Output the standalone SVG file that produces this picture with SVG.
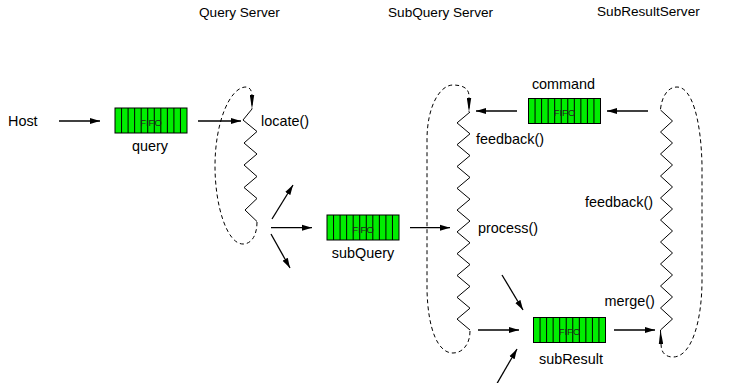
<svg xmlns="http://www.w3.org/2000/svg" xmlns:xlink="http://www.w3.org/1999/xlink" width="735" height="383" viewBox="0 0 735 383">
  <style>
    text { font-family: "Liberation Sans", Arial, Helvetica, sans-serif; fill: #000; }
    .head { font-size: 13.6px; }
    .lbl { font-size: 14.4px; }
    .mid { text-anchor: middle; }
    .fifo-txt { font-size: 9.5px; text-anchor: middle; fill: #222; }
    .arrow { fill: none; stroke: #000; stroke-width: 1.3; marker-end: url(#arrowhead); }
    .zig { fill: none; stroke: #000; stroke-width: 1; stroke-linejoin: miter; }
    .loop { fill: none; stroke: #000; stroke-width: 1; stroke-dasharray: 4 3; marker-end: url(#wedge); }
  </style>
  <defs>
    <marker id="arrowhead" markerUnits="userSpaceOnUse" markerWidth="10" markerHeight="8" refX="10" refY="4" orient="auto">
      <path d="M0,1 L10,4 L0,7 z" fill="#000"/>
    </marker>
    <marker id="wedge" markerUnits="userSpaceOnUse" markerWidth="14" markerHeight="5" refX="14" refY="2.5" orient="auto">
      <path d="M0,0.3 L14,2.5 L0,4.7 z" fill="#000"/>
    </marker>
    <!-- FIFO queue symbol: 11 slots -->
    <g id="fifo-shape">
      <rect x="0" y="0" width="72" height="25" fill="#00ee00" stroke="#000" stroke-width="1"/>
      <path d="M6.55,0V25M13.09,0V25M19.64,0V25M26.18,0V25M32.73,0V25M39.27,0V25M45.82,0V25M52.36,0V25M58.91,0V25M65.45,0V25" stroke="#000" stroke-width="1" fill="none"/>
    </g>
  </defs>

  <!-- server headings -->
  <g id="headings">
    <text class="head" x="199" y="17">Query Server</text>
    <text class="head" x="388" y="17">SubQuery Server</text>
    <text class="head" x="597" y="15.5">SubResultServer</text>
  </g>

  <g id="host">
    <text class="lbl" x="8" y="126">Host</text>
  </g>

  <g id="query-fifo">
    <use href="#fifo-shape" x="115" y="108"/>
    <text class="fifo-txt" x="151" y="125.5">FIFO</text>
    <text class="lbl mid" x="150" y="151">query</text>
  </g>

  <g id="query-server">
    <path class="zig" d="M252,109 L243,120 L257,131.5 L244,143 L257,154 L244,165 L257,176.5 L244,187.5 L257,198.5 L245,210 L257,221.5"/>
    <text class="lbl" x="261" y="125.5">locate()</text>
  </g>

  <g id="subquery-fifo">
    <use href="#fifo-shape" x="327" y="215"/>
    <text class="fifo-txt" x="363" y="232.5">FIFO</text>
    <text class="lbl mid" x="363" y="258">subQuery</text>
  </g>

  <g id="subquery-server">
    <path class="zig" d="M470,112 L457,122.9 L470,133.8 L457,144.7 L470,155.6 L457,166.5 L470,177.4 L457,188.3 L470,199.2 L457,210.1 L470,221 L457,231.9 L470,242.8 L457,253.7 L470,264.6 L457,275.5 L470,286.4 L457,297.3 L470,308.2 L457,319.1 L470,330"/>
    <text class="lbl" x="476" y="143.5">feedback()</text>
    <text class="lbl" x="478" y="232.5">process()</text>
  </g>

  <g id="command-fifo">
    <use href="#fifo-shape" x="528.5" y="98.5"/>
    <text class="fifo-txt" x="564.5" y="116">FIFO</text>
    <text class="lbl mid" x="563.5" y="89">command</text>
  </g>

  <g id="subresult-fifo">
    <use href="#fifo-shape" x="533.5" y="317.5"/>
    <text class="fifo-txt" x="569.5" y="335">FIFO</text>
    <text class="lbl mid" x="571" y="364">subResult</text>
  </g>

  <g id="subresult-server">
    <path class="zig" d="M660.5,110 L672.5,121 L660.5,132 L672.5,143 L660.5,154 L672.5,165 L660.5,176 L672.5,187 L660.5,198 L672.5,209 L660.5,220 L672.5,231 L660.5,242 L672.5,253 L660.5,264 L672.5,275 L660.5,286 L672.5,297 L660.5,308 L672.5,319 L660.5,330"/>
    <text class="lbl" x="585" y="206.5">feedback()</text>
    <text class="lbl" x="604.5" y="306">merge()</text>
  </g>

  <g id="connectors">
    <!-- message flow -->
    <path class="arrow" d="M59,121 H100"/>
    <path class="arrow" d="M198,121 H241"/>
    <path class="arrow" d="M272,219 L293,185"/>
    <path class="arrow" d="M271,227.7 H312"/>
    <path class="arrow" d="M271,234 L290,268"/>
    <path class="arrow" d="M410,227.7 H450"/>
    <path class="arrow" d="M648,111 H607"/>
    <path class="arrow" d="M517,111 H476"/>
    <path class="arrow" d="M502,275 L523,310"/>
    <path class="arrow" d="M478,330 H519"/>
    <path class="arrow" d="M497,383.5 L517,349"/>
    <path class="arrow" d="M614,330 H655"/>
    <!-- thread loops -->
    <path class="loop" d="M257,222 C257,236 251,244 243,244 C227,244 215,206 215,166 C215,122 230,87 246,87 C250,87 252,91 252,96 L252,109"/>
    <path class="loop" d="M470,331 C470,345 462,353 453,353 C438,353 428,330 427,290 L427,140 C427,106 440,85 453,85 C462,85 469,88 469,96 L469,112"/>
    <path class="loop" d="M660.5,109 C662,96 668,87 677,87 C692,87 701,120 702,165 L702,280 C702,320 692,357 673,357 C665,357 661,352 661,344 L660.5,330"/>
  </g>
</svg>
